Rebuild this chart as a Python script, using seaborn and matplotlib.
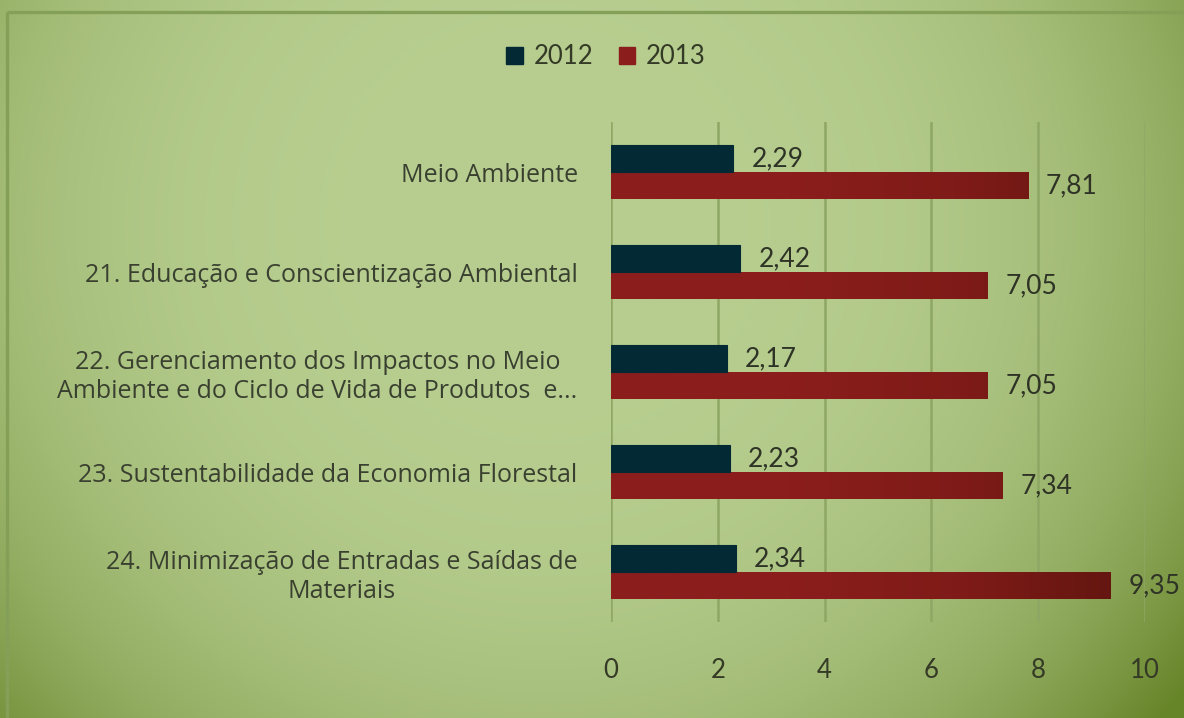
import numpy as np
import pandas as pd
import matplotlib
matplotlib.use("Agg")
import matplotlib.pyplot as plt
import seaborn as sns
from matplotlib.colors import LinearSegmentedColormap, to_rgb
from matplotlib.patches import Rectangle

categories = [
    "Meio Ambiente",
    "21. Educação e Conscientização Ambiental",
    "22. Gerenciamento dos Impactos no Meio\nAmbiente e do Ciclo de Vida de Produtos  e...",
    "23. Sustentabilidade da Economia Florestal",
    "24. Minimização de Entradas e Saídas de\nMateriais",
]
series = ["2012", "2013"]
values_2012 = [2.29, 2.42, 2.17, 2.23, 2.34]
values_2013 = [7.81, 7.05, 7.05, 7.34, 9.35]
x_ticks = [0, 2, 4, 6, 8, 10]

df = pd.DataFrame({
    "categoria": categories * 2,
    "ano": [series[0]] * len(categories) + [series[1]] * len(categories),
    "valor": values_2012 + values_2013,
})

sns.set_theme(style="white")
plt.rcParams["font.family"] = ["Lato", "DejaVu Sans"]

W, H = 1184, 718
fig = plt.figure(figsize=(W / 100, H / 100), dpi=100)

# background radial gradient
bg = fig.add_axes([0, 0, 1, 1], zorder=-10)
yy, xx = np.mgrid[0:H, 0:W]
cx, cy = 544, 224
u = ((xx - cx) / 800.0) ** 2 + ((yy - cy) / 780.0) ** 2
t = np.clip(u, 0, 1) ** 1.7
c0 = np.array(to_rgb("#b7ce90"))
c1 = np.array(to_rgb("#668428"))
img = c0[None, None, :] * (1 - t[..., None]) + c1[None, None, :] * t[..., None]
bg.imshow(img, extent=[0, W, H, 0], aspect="auto")
bg.set_xlim(0, W)
bg.set_ylim(H, 0)
bg.axis("off")
bg.add_patch(Rectangle((7, 12), W + 20, H + 20, fill=False, edgecolor="#84a058", lw=2.4))

ax = fig.add_axes([611 / W, 1 - 622 / H, 534 / W, 500 / H])
ax.patch.set_alpha(0)

palette = {"2012": "#032935", "2013": "#8b1e1c"}
sns.barplot(data=df, y="categoria", x="valor", hue="ano", order=categories,
            hue_order=series, palette=palette, orient="h", width=0.54,
            saturation=1, ax=ax, legend=False, zorder=3, linewidth=0)

ax.set_xlim(0, 10)
ax.set_ylim(len(categories) - 0.5, -0.5)
ax.set_xticks(x_ticks)
ax.set_xticklabels([str(t) for t in x_ticks])
ax.grid(axis="x", color="#8ea764", lw=1.8, zorder=0)
ax.grid(axis="y", visible=False)
for s in ax.spines.values():
    s.set_visible(False)
ax.set_xlabel("")
ax.set_ylabel("")
ax.tick_params(axis="x", length=0, pad=26, labelsize=18.5, labelcolor="#343a26")
ax.tick_params(axis="y", length=0, pad=24, labelcolor="#3a4030")
for lbl in ax.get_yticklabels():
    lbl.set_multialignment("center")
    lbl.set_family(["Open Sans", "DejaVu Sans"])
    lbl.set_fontsize(18)

# 2012 bars on top; gradient on 2013 bars
cont2012, cont2013 = ax.containers[0], ax.containers[1]
for p in cont2012.patches:
    p.set_zorder(5)
    p.set_edgecolor(palette["2012"])
    p.set_linewidth(0.8)
grad_cmap = LinearSegmentedColormap.from_list("g", ["#8b1e1c", "#8b1e1c", "#7e1b18", "#5f150e"])
grad = np.linspace(0, 1, 256)[None, :]
for p in cont2013.patches:
    p.set_zorder(4)
    im = ax.imshow(grad, cmap=grad_cmap, extent=[0, 10, len(categories) - 0.5, -0.5],
                   aspect="auto", zorder=4.5, interpolation="bilinear")
    im.set_clip_path(p)
ax.set_xlim(0, 10)
ax.set_ylim(len(categories) - 0.5, -0.5)

for cont in (cont2012, cont2013):
    ax.bar_label(cont, labels=[f"{v:.2f}".replace(".", ",") for v in cont.datavalues],
                 padding=13, fontsize=19, color="#2f3326")

handles = [Rectangle((0, 0), 1, 1, color=palette[s]) for s in series]
fig.legend(handles, series, loc="center", bbox_to_anchor=(606 / W, 1 - 57 / H), ncol=2,
           frameon=False, fontsize=18.5, handlelength=0.65, handleheight=0.65,
           handletextpad=0.4, columnspacing=1.0, labelcolor="#343a26")

fig.savefig("out.png", dpi=100)
